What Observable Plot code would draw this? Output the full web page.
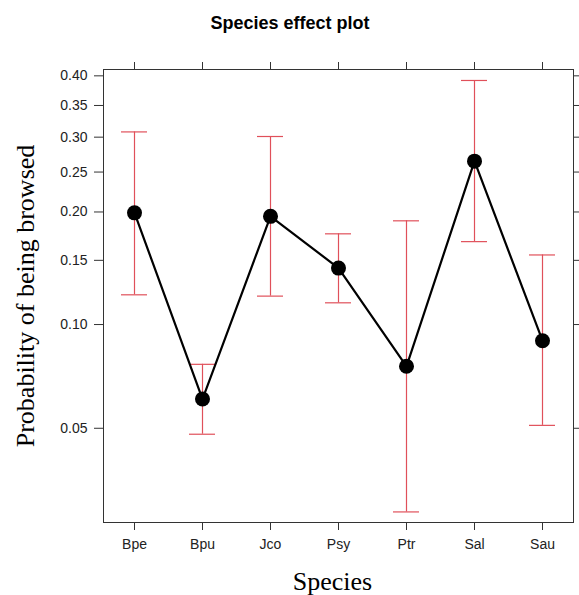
<!DOCTYPE html>
<html><head><meta charset="utf-8">
<script src="https://cdn.jsdelivr.net/npm/d3@7"></script>
<script src="https://cdn.jsdelivr.net/npm/@observablehq/plot@0.6"></script>
<style>body{margin:0;background:#fff}</style>
</head><body><div id="chart"></div>
<script>
const species = ["Bpe","Bpu","Jco","Psy","Ptr","Sal","Sau"];
const fit   = [0.199,0.061,0.195,0.143,0.076,0.265,0.090];
const lower = [0.121,0.048,0.120,0.115,0.028,0.168,0.051];
const upper = [0.308,0.077,0.301,0.176,0.190,0.392,0.155];
const yTicks = [0.05,0.10,0.15,0.20,0.25,0.30,0.35,0.40];
const yDomain = [0.026, 0.411];
const titleText = "Species effect plot";
const xLabel = "Species";
const yLabel = "Probability of being browsed";

const logit = p => Math.log(p / (1 - p));
const invlogit = v => 1 / (1 + Math.exp(-v));
const data = species.map((s, i) => ({species: s, fit: fit[i], lower: lower[i], upper: upper[i]}));
const red = "#e0505a";

const chart = Plot.plot({
  width: 579, height: 595,
  marginLeft: 103, marginRight: 6, marginTop: 69, marginBottom: 73,
  x: {type: "band", domain: species, paddingInner: 0.621, paddingOuter: 0.238},
  y: {type: "linear", domain: yDomain.map(logit)},
  style: {fontFamily: "Liberation Sans, Arial, sans-serif", fontSize: "14px", color: "#222", background: "white"},
  marks: [
    Plot.frame({stroke: "#333"}),
    Plot.axisY(yTicks.map(logit), {anchor: "left", tickSize: 9, tickPadding: 7, label: null,
      tickFormat: d => d3.format(".2f")(invlogit(d)), fontSize: 14, stroke: "#333"}),
    Plot.axisY(yTicks.map(logit), {anchor: "right", tickSize: 7, label: null, tickFormat: () => "", stroke: "#333"}),
    Plot.axisX({anchor: "top", tickSize: 8, label: null, tickFormat: () => "", stroke: "#333"}),
    Plot.axisX({anchor: "bottom", tickSize: 8, tickPadding: 9, label: null, fontSize: 14, stroke: "#333"}),
    Plot.ruleX(data, {x: "species", y1: d => logit(d.lower), y2: d => logit(d.upper), stroke: red, strokeWidth: 1.2}),
    Plot.tickY(data, {x: "species", y: d => logit(d.upper), stroke: red, strokeWidth: 1.2}),
    Plot.tickY(data, {x: "species", y: d => logit(d.lower), stroke: red, strokeWidth: 1.2}),
    Plot.line(data, {x: "species", y: d => logit(d.fit), stroke: "black", strokeWidth: 2.2}),
    Plot.dot(data, {x: "species", y: d => logit(d.fit), r: 7.5, fill: "black", stroke: "none"}),
    Plot.text([titleText], {text: d => d, frameAnchor: "top", dx: -48.5, dy: -41, lineAnchor: "bottom",
      fontWeight: "bold", fontSize: 18, fill: "black"}),
    Plot.text([yLabel], {text: d => d, frameAnchor: "left", rotate: -90, dx: -70, lineAnchor: "bottom",
      textAnchor: "middle",
      fontFamily: "Liberation Serif, Times New Roman, serif", fontSize: 26, fill: "black"}),
    Plot.text([xLabel], {text: d => d, frameAnchor: "bottom", dx: -6, dy: 67, lineAnchor: "bottom",
      textAnchor: "middle",
      fontFamily: "Liberation Serif, Times New Roman, serif", fontSize: 26, fill: "black"})
  ]
});
document.getElementById("chart").appendChild(chart);
</script>
</body></html>
